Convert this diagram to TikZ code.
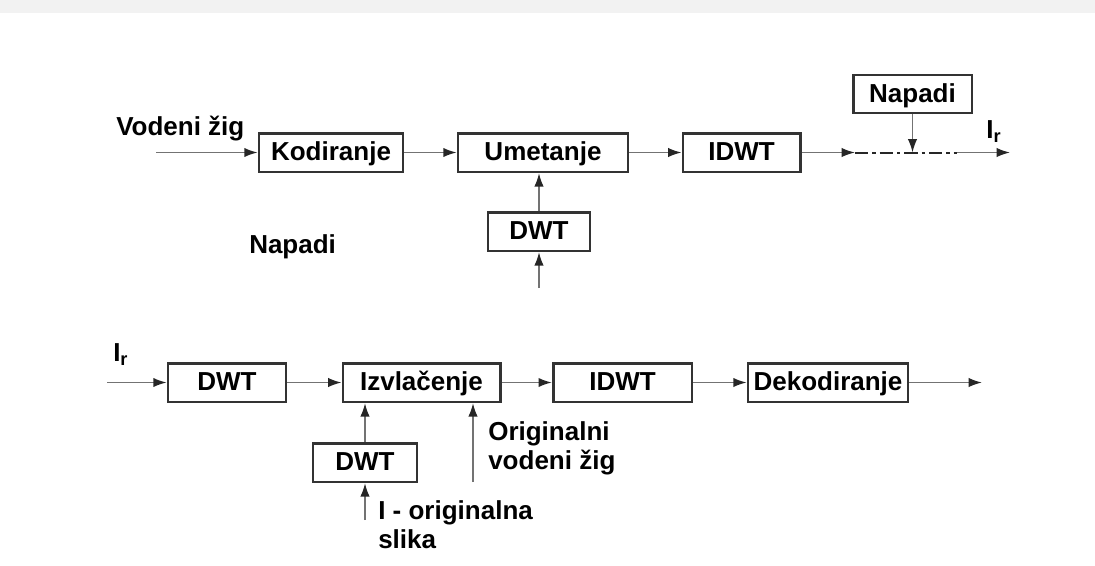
\documentclass[tikz,border=0pt]{standalone}
\usepackage{fontspec}
\setmainfont{Liberation Sans}
\usetikzlibrary{arrows.meta}

\begin{document}
\begin{tikzpicture}[x=0.75pt,y=-0.75pt,
    blok/.style={draw=black!80,line width=2pt,inner sep=0pt,minimum height=29pt,
      text height=15.5pt,text depth=3.5pt},
    link/.style={draw=black!55,line width=1.2pt,-{Latex[length=10pt,width=7pt,color=black!85]}},
    oznaka/.style={inner sep=0pt,align=left},
    every node/.style={font=\fontsize{19.5}{22}\selectfont\bfseries}]
    \useasboundingbox (0,0) rectangle (1095,565);
    \fill[gray!10] (0,0) rectangle (1095,13);

    % ugradnja
    \node[blok,minimum width=108pt] (kod) at (331,152.5) {Kodiranje};
    \node[blok,minimum width=127.5pt] (umet) at (543,152.5) {Umetanje};
    \node[blok,minimum width=88pt] (idwt1) at (741.5,152.5) {IDWT};
    \node[blok,minimum width=89pt,minimum height=28.5pt] (nap) at (912.5,94) {Napadi};
    \node[blok,minimum width=76.5pt] (dwt1) at (539,231.5) {DWT};
    \node[oznaka,anchor=base west] (vodzig) at (116,135) {Vodeni žig};
    \node[oznaka,anchor=base west] (nap2) at (249,253) {Napadi};
    \node[oznaka,anchor=base west] (ir1) at (986,138) {I\textsubscript{r}};
    \coordinate (ulaz1) at (156,152.5);
    \coordinate (a1) at (855,152.5);
    \coordinate (a2) at (957,152.5);
    \coordinate (izlaz1) at (1010,152.5);
    \coordinate (slika1) at (539,288);

    \draw[link] (ulaz1) -- (kod);
    \draw[link] (kod) -- (umet);
    \draw[link] (umet) -- (idwt1);
    \draw[link] (idwt1) -- (a1);
    \draw[draw=black!85,line width=1.5pt,dash pattern=on 10pt off 3pt on 2.5pt off 3pt] (a1) -- (a2);
    \draw[link] (a2) -- (izlaz1);
    \draw[link] (nap.south) -- (nap.south |- a1);
    \draw[link] (dwt1.north) -- (dwt1.north |- umet.south);
    \draw[link] (slika1) -- (dwt1.south);

    % izvlacenje
    \node[blok,minimum width=88.5pt] (dwt2) at (227,382.5) {DWT};
    \node[blok,minimum width=118pt] (izv) at (421.5,382.5) {Izvlačenje};
    \node[blok,minimum width=104pt] (idwt2) at (622.5,382.5) {IDWT};
    \node[blok,minimum width=120pt] (dek) at (828,382.5) {Dekodiranje};
    \node[blok,minimum width=78pt] (dwt3) at (365,462.5) {DWT};
    \node[oznaka,anchor=base west] (ir2) at (113,361) {I\textsubscript{r}};
    \node[oznaka,anchor=north west] (orvz) at (488,421) {Originalni\\vodeni žig};
    \node[oznaka,anchor=north west] (orsl) at (378,500) {I - originalna\\slika};
    \coordinate (ulaz2) at (107,382.5);
    \coordinate (izlaz2) at (982,382.5);
    \coordinate (slika2) at (365,520);
    \coordinate (zig) at (473,482);

    \draw[link] (ulaz2) -- (dwt2);
    \draw[link] (dwt2) -- (izv);
    \draw[link] (izv) -- (idwt2);
    \draw[link] (idwt2) -- (dek);
    \draw[link] (dek) -- (izlaz2);
    \draw[link] (dwt3.north) -- (dwt3.north |- izv.south);
    \draw[link] (slika2) -- (dwt3.south);
    \draw[link] (zig) -- (zig |- izv.south);
\end{tikzpicture}
\end{document}
